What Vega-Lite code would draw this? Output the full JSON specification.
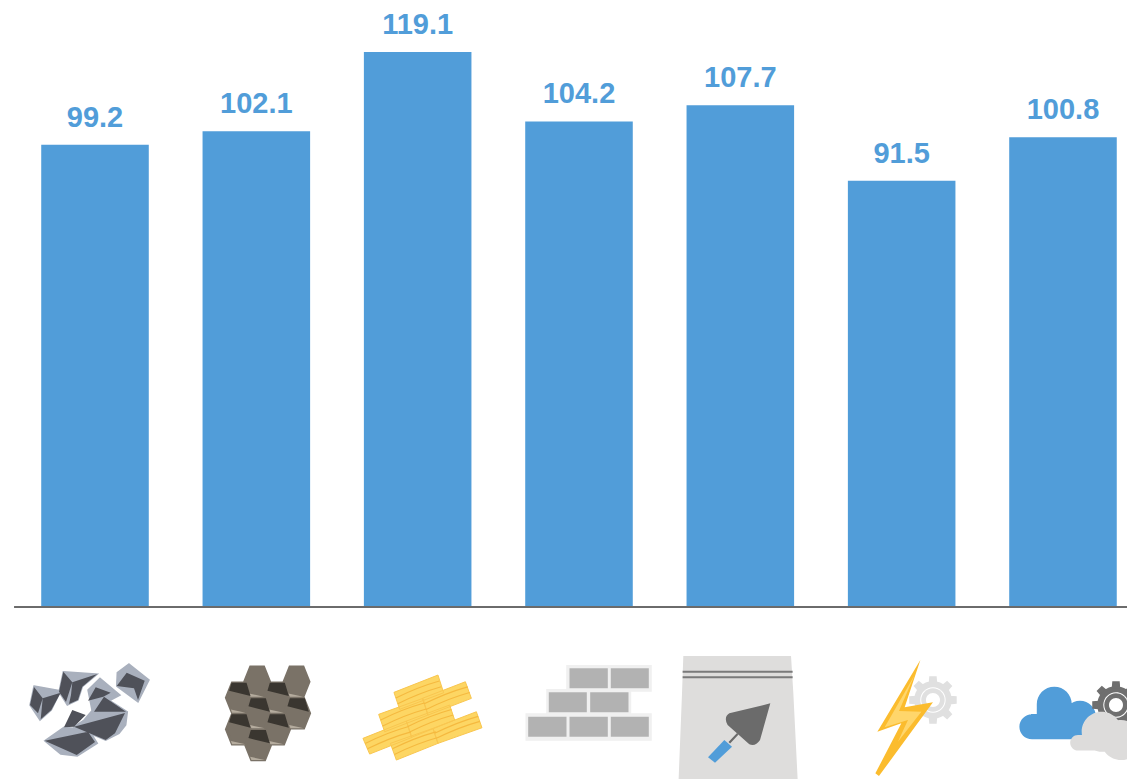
{
"$schema":"https://vega.github.io/schema/vega-lite/v6.json",
"autosize":{"type":"none"},
"padding":{"left":14.33,"top":0,"right":0,"bottom":0},
"width":1112.67,"height":779,
"background":"white",
"config":{"view":{"stroke":null}},
"data":{"values":[
{"item":"Ore","value":99.2},
{"item":"Coal","value":102.1},
{"item":"Timber","value":119.1},
{"item":"Bricks","value":104.2},
{"item":"Cement","value":107.7},
{"item":"Electricity","value":91.5},
{"item":"Cloud","value":100.8}
]},
"layer":[
{"mark":{"type":"bar","color":"#519DD9"},"encoding":{
"x":{"field":"item","type":"nominal","sort":null,"axis":null,"scale":{"paddingInner":0.3333,"paddingOuter":0.1667,"range":[0,1129.33]}},
"y":{"field":"value","type":"quantitative","axis":null,"scale":{"domain":[-36.9,130.26],"nice":false,"zero":false}}}},
{"mark":{"type":"text","color":"#519DD9","font":"Liberation Sans","fontWeight":"bold","fontSize":29,"dy":-18,"baseline":"alphabetic","align":"center"},"encoding":{
"x":{"field":"item","type":"nominal","sort":null,"axis":null},
"y":{"field":"value","type":"quantitative","axis":null},
"text":{"field":"value","type":"quantitative","format":".1f"}}},
{"encoding":{
"x":{"field":"item","type":"nominal","sort":null,"axis":null},
"y":{"datum":-23.18,"type":"quantitative","axis":null}
},
"layer":[
{"transform":[{"filter":"datum.item==='Ore'"}],"mark":{"type":"point","filled":true,"opacity":1,"size":4,"color":"#A9B0BD","stroke":"#A9B0BD","strokeWidth":1.5,"shape":"M-61 -29L-34.3 -24.3L-43.7 -5L-55 5L-65 -10ZM-31.7 -43.3L2.3 -41L-12.7 -28.3L-17 -15L-27.7 -10L-36 -23.3ZM34 -51L54 -35L43 -13.3L21.7 -29L22.3 -42.3ZM5 -36.7L25 -20L12.3 -13.3L-2.7 -3.3L-7 -25ZM9 -18.3L32.3 -3.3L30.7 10L24 18.3L10.7 25L-21 11.7L-11 5ZM-31 12.3L-6 15L2.3 28.3L-17.7 41L-34.3 39L-50.3 25.7Z"}},
{"transform":[{"filter":"datum.item==='Ore'"}],"mark":{"type":"point","filled":true,"opacity":1,"size":4,"color":"#4F5159","shape":"M-61 -28L-52.3 -16.7L-57 -1.7L-65 -10ZM-52.3 -16.7L-34.3 -22.3L-43.7 -5L-54.3 4.3ZM-31.7 -43.3L-22.7 -32.7L-29 -13L-36 -23.3ZM-22.7 -32.7L2.3 -41L-12.7 -28.3L-17 -15L-26 -11L-24 -20ZM31.7 -42.3L49.7 -34.3L39 -26.7L21.7 -29ZM49.7 -34.3L43 -15L39 -26.7ZM0.7 -27.7L15.7 -22.3L8.3 -18.3L-7 -14.3ZM9 -18.3L31 -3.3L-1 -3.3ZM-21 11.7L30 -2L20 18.3L10.7 25ZM-22.7 -5L-9.3 0L-21 11.7L-31 12.3ZM-50.3 25.7L-7 16.7L0 27L-18.3 40Z"}},

{"transform":[{"filter":"datum.item==='Coal'"}],"mark":{"type":"point","filled":true,"opacity":1,"size":4,"color":"#7A7267","stroke":"#7A7267","strokeWidth":2.5,"shape":"M-11.9 -33.3L-5.9 -48.3L7.5 -48.3L13.5 -33.3L7.5 -18.3L-5.9 -18.3ZM27.5 -33.3L33.5 -48.3L46.9 -48.3L52.9 -33.3L46.9 -18.3L33.5 -18.3ZM-30.2 -17.3L-24.2 -32.3L-10.8 -32.3L-4.8 -17.3L-10.8 -2.3L-24.2 -2.3ZM8.1 -17.3L14.1 -32.3L27.5 -32.3L33.5 -17.3L27.5 -2.3L14.1 -2.3ZM-10.9 -1.7L-4.9 -16.7L8.5 -16.7L14.5 -1.7L8.5 13.3L-4.9 13.3ZM28.1 -1.7L34.1 -16.7L47.5 -16.7L53.5 -1.7L47.5 13.3L34.1 13.3ZM-30.2 14.3L-24.2 -0.7L-10.8 -0.7L-4.8 14.3L-10.8 29.3L-24.2 29.3ZM8.1 14.3L14.1 -0.7L27.5 -0.7L33.5 14.3L27.5 29.3L14.1 29.3ZM-10.9 30L-4.9 15L8.5 15L14.5 30L8.5 45L-4.9 45Z"}},
{"transform":[{"filter":"datum.item==='Coal'"}],"mark":{"type":"point","filled":true,"opacity":1,"size":4,"color":"#B5AC9E","shape":"M-7.2 -21.6L7.5 -18.3L-5.9 -18.3ZM32.2 -21.6L46.9 -18.3L33.5 -18.3ZM-25.5 -5.6L-10.8 -2.3L-24.2 -2.3ZM12.8 -5.6L27.5 -2.3L14.1 -2.3ZM-6.2 10L8.5 13.3L-4.9 13.3ZM32.8 10L47.5 13.3L34.1 13.3ZM-25.5 26L-10.8 29.3L-24.2 29.3ZM12.8 26L27.5 29.3L14.1 29.3ZM-6.2 41.7L8.5 45L-4.9 45Z"}},
{"transform":[{"filter":"datum.item==='Coal'"}],"mark":{"type":"point","filled":true,"opacity":1,"size":4,"color":"#3A3630","shape":"M-24.8 -32.3L-9.8 -32.3L-5.8 -19L-27.2 -24.3ZM13.5 -32.3L28.5 -32.3L32.5 -19L11.1 -24.3ZM-5.5 -16.7L9.5 -16.7L13.5 -3.4L-7.9 -8.7ZM33.5 -16.7L48.5 -16.7L52.5 -3.4L31.1 -8.7ZM-24.8 -0.7L-9.8 -0.7L-5.8 12.6L-27.2 7.3ZM13.5 -0.7L28.5 -0.7L32.5 12.6L11.1 7.3ZM-5.5 15L9.5 15L13.5 28.3L-7.9 23Z"}},

{"transform":[{"filter":"datum.item==='Timber'"}],"mark":{"type":"point","filled":true,"opacity":1,"size":4,"color":"#FDD663","stroke":"#F9C64F","strokeWidth":1,"shape":"M-23.7 -22.7L20.3 -40L26 -22.3L-18 -5.7ZM4.7 -16.7L47.7 -33.3L53.7 -16.7L10.3 0ZM-39 -0.7L5.3 -16.7L10.3 0L-33 16.7ZM-11.3 6L32 -10L37 5L-6.3 22.3ZM-54.7 23.3L-11.3 6L-5.7 22.3L-48 39ZM-27.3 28.3L15.3 13.3L20.3 28.3L-21.3 45ZM15.3 13.3L58.7 -3.3L64.3 12.7L20.3 28.3Z"}},
{"transform":[{"filter":"datum.item==='Timber'"}],"mark":{"type":"point","filled":false,"opacity":1,"size":4,"color":"#F5B93F","strokeWidth":1.1,"shape":"M-21.8 -17.1q22 -11 43.5 -17M-19.9 -11.3q22 -11 43.5 -17M6.5 -11.2q22 -11 43.5 -17M8.5 -5.5q22 -11 43.5 -17M-37 5q22 -11 43.5 -17M-35 11q22 -11 43.5 -17M-9.7 11.4q22 -11 43.5 -17M-8 17q22 -11 43.5 -17M-52.5 28.5q22 -11 43.5 -17M-50.2 33.8q22 -11 43.5 -17M-25.3 33.8q22 -11 43.5 -17M-23.3 39.5q22 -11 43.5 -17M17 18.3q22 -11 43.5 -17M18.7 23.3q22 -11 43.5 -17"}},

{"transform":[{"filter":"datum.item==='Bricks'"}],"mark":{"type":"point","filled":true,"opacity":1,"size":4,"color":"#F0F0F0","shape":"M-12.8 -50L72.8 -50L72.8 -23.3L-12.8 -23.3ZM-32.8 -26L52.2 -26L52.2 0.7L-32.8 0.7ZM-53.5 -1.7L72.8 -1.7L72.8 25.7L-53.5 25.7Z"}},
{"transform":[{"filter":"datum.item==='Bricks'"}],"mark":{"type":"point","filled":true,"opacity":1,"size":4,"color":"#B2B2B2","shape":"M-9.5 -46.7L28.8 -46.7L28.8 -26.7L-9.5 -26.7ZM31.8 -46.7L69.8 -46.7L69.8 -26.7L31.8 -26.7ZM-30.2 -22.7L7.8 -22.7L7.8 -2.7L-30.2 -2.7ZM11.2 -22.7L49.5 -22.7L49.5 -2.7L11.2 -2.7ZM-50.8 1.7L-12.5 1.7L-12.5 21.7L-50.8 21.7ZM-9.5 1.7L28.8 1.7L28.8 21.7L-9.5 21.7ZM31.8 1.7L69.8 1.7L69.8 21.7L31.8 21.7Z"}},

{"transform":[{"filter":"datum.item==='Cement'"}],"mark":{"type":"point","filled":true,"opacity":1,"size":4,"color":"#DEDDDC","shape":"M-57 -59L50.7 -59L53 -22L57.3 64L-61.7 64L-58.3 -22Z"}},
{"transform":[{"filter":"datum.item==='Cement'"}],"mark":{"type":"point","filled":true,"opacity":1,"size":4,"color":"#7A7A7A","shape":"M-57.7 -44.3L52.3 -44.3L52.3 -42.3L-57.7 -42.3ZM-57.7 -38.7L52.3 -38.7L52.3 -36.7L-57.7 -36.7Z"}},
{"transform":[{"filter":"datum.item==='Cement'"}],"mark":{"type":"point","filled":true,"opacity":1,"size":4,"color":"#6B6B6B","shape":"M30 -11.7L-11 -1.7Q-17 2 -12.7 10L9 29.3Q15 32 19.7 25ZM-3.5 18.2L-2 19.8L-10.2 28.5L-11.8 26.9Z"}},
{"transform":[{"filter":"datum.item==='Cement'"}],"mark":{"type":"point","filled":true,"opacity":1,"size":4,"color":"#519DD9","shape":"M-16 25L-8.3 31.7L-25.3 47.7L-32.3 42.3Z"}},

{"transform":[{"filter":"datum.item==='Electricity'"}],"mark":{"type":"point","filled":true,"opacity":1,"size":4,"color":"#E0E0E0","stroke":"#E0E0E0","strokeWidth":1.5,"shape":"M49.3 -15A18 18 0 1 1 13.3 -15A18 18 0 1 1 49.3 -15ZM27.8 -32L28.3 -38L34.3 -38L34.8 -32ZM48.3 -18.5L54.3 -18L54.3 -12L48.3 -11.5ZM34.8 2L34.3 8L28.3 8L27.8 2ZM14.3 -11.5L8.3 -12L8.3 -18L14.3 -18.5ZM40.85 -29.5L45.44 -33.38L49.68 -29.14L45.8 -24.55ZM45.8 -5.45L49.68 -0.86L45.44 3.38L40.85 -0.5ZM21.75 -0.5L17.16 3.38L12.92 -0.86L16.8 -5.45ZM16.8 -24.55L12.92 -29.14L17.16 -33.38L21.75 -29.5Z"}},
{"transform":[{"filter":"datum.item==='Electricity'"}],"mark":{"type":"point","filled":true,"opacity":1,"size":4,"color":"#FFFFFF","shape":"M44 -15A12.7 12.7 0 1 1 18.6 -15A12.7 12.7 0 1 1 44 -15Z"}},
{"transform":[{"filter":"datum.item==='Electricity'"}],"mark":{"type":"point","filled":true,"opacity":1,"size":4,"color":"#E0E0E0","shape":"M43 -15A11.7 11.7 0 1 1 19.6 -15A11.7 11.7 0 1 1 43 -15Z"}},
{"transform":[{"filter":"datum.item==='Electricity'"}],"mark":{"type":"point","filled":true,"opacity":1,"size":4,"color":"#FFFFFF","shape":"M38.3 -15A7 7 0 1 1 24.3 -15A7 7 0 1 1 38.3 -15Z"}},
{"transform":[{"filter":"datum.item==='Electricity'"}],"mark":{"type":"point","filled":true,"opacity":1,"size":4,"color":"#FBBC2E","shape":"M18.7 -55L-24.3 16.7L-0.3 8.3L-26.3 58.3L-22.7 61L31.3 -12.7L3 -7.7Z"}},
{"transform":[{"filter":"datum.item==='Electricity'"}],"mark":{"type":"point","filled":true,"opacity":1,"size":4,"color":"#FFD66B","shape":"M13 -40L-17 12.3L6.3 5L-3.7 26.7L19.7 -3.3L-2.7 -4Z"}},

{"transform":[{"filter":"datum.item==='Cloud'"}],"mark":{"type":"point","filled":true,"opacity":1,"size":4,"color":"#519DD9","shape":"M-32 -1L32 -1L32 24.3L-32 24.3ZM-18.4 11.7A12.6 12.6 0 1 1 -43.6 11.7A12.6 12.6 0 1 1 -18.4 11.7ZM-26.2 -11L8.8 -11L8.8 0L-26.2 0ZM8.8 -10.8A17.5 17.5 0 1 1 -26.2 -10.8A17.5 17.5 0 1 1 8.8 -10.8ZM33 1.7A16 16 0 1 1 1 1.7A16 16 0 1 1 33 1.7Z"}},
{"transform":[{"filter":"datum.item==='Cloud'"}],"mark":{"type":"point","filled":true,"opacity":1,"size":4,"color":"#6F6F6F","stroke":"#6F6F6F","strokeWidth":1.5,"shape":"M71 -10A18 18 0 1 1 35 -10A18 18 0 1 1 71 -10ZM49.5 -27L50 -33L56 -33L56.5 -27ZM70 -13.5L76 -13L76 -7L70 -6.5ZM56.5 7L56 13L50 13L49.5 7ZM36 -6.5L30 -7L30 -13L36 -13.5ZM62.55 -24.5L67.14 -28.38L71.38 -24.14L67.5 -19.55ZM67.5 -0.45L71.38 4.14L67.14 8.38L62.55 4.5ZM43.45 4.5L38.86 8.38L34.62 4.14L38.5 -0.45ZM38.5 -19.55L34.62 -24.14L38.86 -28.38L43.45 -24.5Z"}},
{"transform":[{"filter":"datum.item==='Cloud'"}],"mark":{"type":"point","filled":true,"opacity":1,"size":4,"color":"#FFFFFF","shape":"M65.7 -10A12.7 12.7 0 1 1 40.3 -10A12.7 12.7 0 1 1 65.7 -10Z"}},
{"transform":[{"filter":"datum.item==='Cloud'"}],"mark":{"type":"point","filled":true,"opacity":1,"size":4,"color":"#6F6F6F","shape":"M64.7 -10A11.7 11.7 0 1 1 41.3 -10A11.7 11.7 0 1 1 64.7 -10Z"}},
{"transform":[{"filter":"datum.item==='Cloud'"}],"mark":{"type":"point","filled":true,"opacity":1,"size":4,"color":"#FFFFFF","shape":"M60 -10A7 7 0 1 1 46 -10A7 7 0 1 1 60 -10Z"}},
{"transform":[{"filter":"datum.item==='Cloud'"}],"mark":{"type":"point","filled":true,"opacity":1,"size":4,"color":"#DDDCDB","shape":"M15 20L70 20L70 35.5L15 35.5ZM22.8 27.7A7.8 7.8 0 1 1 7.2 27.7A7.8 7.8 0 1 1 22.8 27.7ZM58.7 16.7A20 20 0 1 1 18.7 16.7A20 20 0 1 1 58.7 16.7ZM78 25A20 20 0 1 1 38 25A20 20 0 1 1 78 25Z"}}
]},
{"mark":{"type":"rule","color":"#6B6B6B","size":1},"encoding":{"y":{"datum":0,"type":"quantitative","axis":null}}}
]
}
